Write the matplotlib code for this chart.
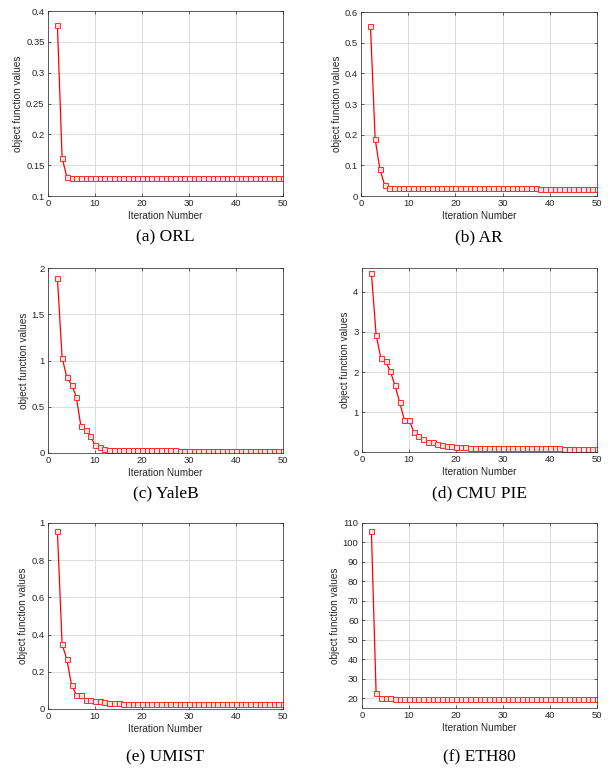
import matplotlib.pyplot as plt
import numpy as np

iters = list(range(2, 51))

orl = [0.377, 0.162, 0.131, 0.130, 0.130, 0.129, 0.130] + \
      [0.129, 0.129, 0.129, 0.129, 0.129, 0.129, 0.129, 0.129, 0.129, 0.129,
       0.129, 0.129, 0.129, 0.129, 0.129, 0.129, 0.129, 0.129, 0.129, 0.129,
       0.129, 0.129, 0.129, 0.129, 0.129, 0.129, 0.129, 0.129, 0.129, 0.129,
       0.129, 0.129, 0.129, 0.129, 0.129, 0.129, 0.129, 0.129, 0.129, 0.129,
       0.129, 0.129]
ar = [0.555, 0.186, 0.087, 0.037, 0.027, 0.027, 0.025, 0.025, 0.027,
      0.025, 0.025, 0.025, 0.025, 0.025, 0.025, 0.025, 0.025, 0.025, 0.025,
      0.026, 0.025, 0.025, 0.025, 0.025, 0.025, 0.025, 0.025, 0.025, 0.025,
      0.025, 0.025, 0.025, 0.025, 0.025, 0.025, 0.025, 0.024, 0.024, 0.024,
      0.024, 0.024, 0.024, 0.024, 0.024, 0.024, 0.024, 0.024, 0.024, 0.024]
yaleb = [1.89, 1.03, 0.82, 0.74, 0.61, 0.29, 0.25, 0.18, 0.09,
         0.06, 0.04, 0.035, 0.035, 0.033, 0.033, 0.032, 0.032, 0.031, 0.031,
         0.030, 0.030, 0.029, 0.029, 0.028, 0.028, 0.028, 0.027, 0.027, 0.027,
         0.027, 0.026, 0.026, 0.026, 0.026, 0.026, 0.026, 0.025, 0.025, 0.025,
         0.025, 0.025, 0.025, 0.025, 0.025, 0.025, 0.025, 0.025, 0.025, 0.025]
cmupie = [4.48, 2.93, 2.35, 2.27, 2.03, 1.67, 1.25, 0.81, 0.81,
          0.51, 0.41, 0.32, 0.26, 0.24, 0.19, 0.17, 0.16, 0.14, 0.13,
          0.13, 0.12, 0.11, 0.11, 0.11, 0.10, 0.10, 0.10, 0.10, 0.10,
          0.09, 0.09, 0.09, 0.09, 0.09, 0.09, 0.09, 0.09, 0.09, 0.09,
          0.09, 0.09, 0.08, 0.08, 0.08, 0.08, 0.08, 0.08, 0.08, 0.08]
umist = [0.955, 0.348, 0.268, 0.130, 0.077, 0.076, 0.050, 0.046, 0.044,
         0.042, 0.036, 0.034, 0.031, 0.030, 0.029, 0.028, 0.027, 0.027, 0.027,
         0.027, 0.027, 0.026, 0.026, 0.026, 0.026, 0.026, 0.026, 0.026, 0.026,
         0.026, 0.026, 0.025, 0.025, 0.025, 0.025, 0.025, 0.025, 0.025, 0.025,
         0.025, 0.025, 0.025, 0.025, 0.025, 0.025, 0.025, 0.025, 0.025, 0.025]
eth80 = [105.7, 22.5, 20.3, 19.9, 19.9, 19.8, 19.8, 19.8, 19.8,
         19.8, 19.8, 19.8, 19.8, 19.8, 19.8, 19.8, 19.8, 19.8, 19.8,
         19.8, 19.8, 19.8, 19.8, 19.8, 19.8, 19.8, 19.8, 19.8, 19.8,
         19.8, 19.8, 19.8, 19.8, 19.8, 19.8, 19.8, 19.8, 19.8, 19.8,
         19.8, 19.8, 19.8, 19.8, 19.8, 19.8, 19.8, 19.8, 19.8, 19.8]

captions = ['(a) ORL', '(b) AR', '(c) YaleB', '(d) CMU PIE', '(e) UMIST', '(f) ETH80']
series = [orl, ar, yaleb, cmupie, umist, eth80]
ylims = [(0.1, 0.4), (0, 0.6), (0, 2), (0, 4.6), (0, 1), (15, 110)]
yticks = [np.arange(0.1, 0.41, 0.05), np.arange(0, 0.61, 0.1), [0, 0.5, 1, 1.5, 2],
          [0, 1, 2, 3, 4], np.arange(0, 1.01, 0.2), np.arange(20, 111, 10)]
yticklabels = [['0.1', '0.15', '0.2', '0.25', '0.3', '0.35', '0.4'],
               ['0', '0.1', '0.2', '0.3', '0.4', '0.5', '0.6'],
               ['0', '0.5', '1', '1.5', '2'],
               ['0', '1', '2', '3', '4'],
               ['0', '0.2', '0.4', '0.6', '0.8', '1'],
               [str(v) for v in range(20, 111, 10)]]

W, H = 614, 773
# axes boxes in pixels: left, top, right, bottom
boxes = [(48, 11, 283, 196), (361, 12, 597, 196),
         (48, 268, 283, 453), (362, 268, 597, 452),
         (48, 523, 283, 709), (362, 523, 597, 708)]
cap_y = [237, 237, 493, 493, 757, 757]

plt.rcParams['font.family'] = ['Liberation Sans', 'DejaVu Sans']
fig = plt.figure(figsize=(W / 100, H / 100), dpi=100)
fig.patch.set_facecolor('white')

txt = '#262626'
for i in range(6):
    l, t, r, b = boxes[i]
    ax = fig.add_axes([l / W, 1 - b / H, (r - l) / W, (b - t) / H])
    ax.plot(iters, series[i], color='#ff0000', lw=0.9, marker='s', ms=3.6,
            mfc='#ffe0e0', mec='#ff2a2a', mew=0.7)
    ax.set_xlim(0, 50)
    ax.set_ylim(*ylims[i])
    ax.set_xticks([0, 10, 20, 30, 40, 50])
    ax.set_yticks(yticks[i])
    ax.set_yticklabels(yticklabels[i])
    ax.grid(True, color='#dcdcdc', lw=0.7)
    ax.set_axisbelow(True)
    ax.tick_params(direction='in', top=True, right=True, length=2.5, width=0.5,
                   labelsize=6.8, colors=txt, pad=2.5)
    for s in ax.spines.values():
        s.set_color('#262626')
        s.set_linewidth(0.5)
    ax.set_xlabel('Iteration Number', fontsize=7.2, color=txt, labelpad=1.5)
    ax.set_ylabel('object function values', fontsize=7.2, color=txt, labelpad=2)
    cx = (l + r) / 2
    fig.text(cx / W, 1 - cap_y[i] / H, captions[i], ha='center', va='center',
             fontsize=12.5, family='Liberation Serif', color='black')

fig.savefig('out.png', dpi=100, facecolor='white')
